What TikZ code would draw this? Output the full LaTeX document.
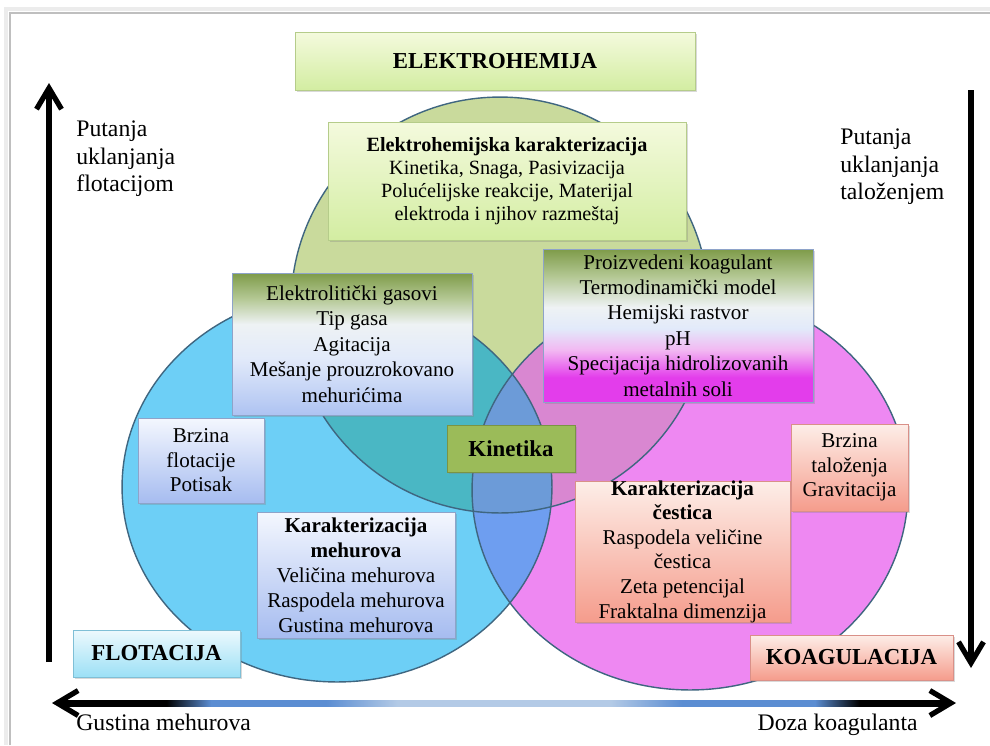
\documentclass[tikz,border=0pt]{standalone}
\usepackage{fontspec}
\setmainfont{Liberation Serif}
\usetikzlibrary{arrows.meta,shadows}

\definecolor{ringGreen}{HTML}{C9DA9C}
\definecolor{ringBlue}{HTML}{6DCFF6}
\definecolor{ringPink}{HTML}{EE88F2}
\definecolor{mixGB}{HTML}{4AB7C4}
\definecolor{mixGP}{HTML}{D987D1}
\definecolor{mixBP}{HTML}{6E9EF0}
\definecolor{mixAll}{HTML}{6C9BD8}
\definecolor{ringLine}{HTML}{3F6680}
\definecolor{panGreenTop}{HTML}{F4FADD}
\definecolor{panGreenBot}{HTML}{D3EDA2}
\definecolor{panGreenLine}{HTML}{B5CC8A}
\definecolor{panOlive}{HTML}{7E9B49}
\definecolor{panOliveLt}{HTML}{B4C894}
\definecolor{panMist}{HTML}{EEF2F4}
\definecolor{panMistBlue}{HTML}{E2EAFA}
\definecolor{panSky}{HTML}{AEC3F2}
\definecolor{panPinkLt}{HTML}{F2B8F2}
\definecolor{panMagenta}{HTML}{E33DEB}
\definecolor{panBlueTop}{HTML}{F4F7FE}
\definecolor{panBlueBot}{HTML}{A6BCF0}
\definecolor{panBlueLine}{HTML}{8EA3C9}
\definecolor{panCyanTop}{HTML}{EDF9FD}
\definecolor{panCyanBot}{HTML}{9CE0F6}
\definecolor{panCyanLine}{HTML}{7FBFD6}
\definecolor{panSalmonTop}{HTML}{FDEEE8}
\definecolor{panSalmonBot}{HTML}{F59C8C}
\definecolor{panSalmonLine}{HTML}{D99088}
\definecolor{panKin}{HTML}{9BBB59}
\definecolor{panKinLine}{HTML}{7A9444}
\definecolor{axisBlue}{HTML}{5B8DD2}
\definecolor{axisLight}{HTML}{B3CAE6}

\pgfdeclarehorizontalshading{axisbar}{100bp}{color(0bp)=(black); color(31bp)=(black);
  color(33.5bp)=(axisBlue); color(40bp)=(axisBlue); color(44bp)=(axisLight);
  color(56bp)=(axisLight); color(60bp)=(axisBlue); color(67.5bp)=(axisBlue);
  color(70bp)=(black); color(100bp)=(black)}
\pgfdeclareverticalshading{gasshade}{100bp}{color(0bp)=(panSky); color(25bp)=(panSky);
  color(45bp)=(panMistBlue); color(57bp)=(panMist); color(66bp)=(panOliveLt);
  color(75bp)=(panOlive); color(100bp)=(panOlive)}
\pgfdeclareverticalshading{koagshade}{100bp}{color(0bp)=(panMagenta); color(25bp)=(panMagenta);
  color(33bp)=(panMagenta); color(42bp)=(panPinkLt); color(49bp)=(panMistBlue);
  color(56bp)=(panMist); color(66bp)=(panOliveLt); color(75bp)=(panOlive); color(100bp)=(panOlive)}

\tikzset{
  panel/.style={rectangle, inner sep=1pt, align=center, line width=0.5pt,
    drop shadow={shadow xshift=1pt, shadow yshift=-1.2pt, opacity=0.3}},
  greenpanel/.style={panel, top color=panGreenTop, bottom color=panGreenBot, draw=panGreenLine},
  olivebluepanel/.style={panel, shading=gasshade, draw=panBlueLine},
  olivepinkpanel/.style={panel, shading=koagshade, draw=panBlueLine},
  bluepanel/.style={panel, top color=panBlueTop, bottom color=panBlueBot, draw=panBlueLine},
  cyanpanel/.style={panel, top color=panCyanTop, bottom color=panCyanBot, draw=panCyanLine},
  salmonpanel/.style={panel, top color=panSalmonTop, bottom color=panSalmonBot, draw=panSalmonLine},
  kinpanel/.style={panel, fill=panKin, draw=panKinLine},
  boxtext/.style={font=\fontsize{12}{14.5}\selectfont},
  headtext/.style={font=\fontsize{13}{15.6}\selectfont\bfseries},
  sidetext/.style={align=left, inner sep=0pt, anchor=north west, font=\fontsize{13.5}{15.9}\selectfont},
  bigarrow/.style={line width=3pt, -{Straight Barb[length=0.42cm,width=0.5cm]}},
}

\begin{document}
\begin{tikzpicture}[x=0.02cm, y=-0.02cm]
  \useasboundingbox (0,0) rectangle (990,745);
  % page frame
  \draw[gray!15, line width=2.5pt] (6,745) -- (6,9) -- (990,9);
  \draw[gray!50, line width=0.6pt] (10,745) -- (10,13) -- (990,13);

  % circles
  \coordinate (gC) at (500,305);
  \coordinate (bC) at (337,487);
  \coordinate (pC) at (690,490);
  \fill[ringGreen] (gC) ellipse [x radius=4.18cm, y radius=4.16cm];
  \fill[ringBlue] (bC) ellipse [x radius=4.3cm, y radius=3.9cm];
  \fill[ringPink] (pC) ellipse [x radius=4.36cm, y radius=4cm];
  \begin{scope}
    \clip (gC) ellipse [x radius=4.18cm, y radius=4.16cm];
    \fill[mixGB] (bC) ellipse [x radius=4.3cm, y radius=3.9cm];
    \fill[mixGP] (pC) ellipse [x radius=4.36cm, y radius=4cm];
  \end{scope}
  \begin{scope}
    \clip (bC) ellipse [x radius=4.3cm, y radius=3.9cm];
    \fill[mixBP] (pC) ellipse [x radius=4.36cm, y radius=4cm];
    \clip (gC) ellipse [x radius=4.18cm, y radius=4.16cm];
    \fill[mixAll] (pC) ellipse [x radius=4.36cm, y radius=4cm];
  \end{scope}
  \draw[ringLine, line width=0.8pt] (gC) ellipse [x radius=4.18cm, y radius=4.16cm];
  \draw[ringLine, line width=0.8pt] (bC) ellipse [x radius=4.3cm, y radius=3.9cm];
  \draw[ringLine, line width=0.8pt] (pC) ellipse [x radius=4.36cm, y radius=4cm];

  % boxes
  \node[greenpanel, headtext, minimum width=8cm, minimum height=1.16cm] (elHead) at (495,61) {ELEKTROHEMIJA};
  \node[greenpanel, font=\fontsize{11.5}{13}\selectfont, minimum width=7.16cm, minimum height=2.36cm] (elKar) at (507,181)
    {\textbf{Elektrohemijska karakterizacija}\\
     Kinetika, Snaga, Pasivizacija\\
     Polućelijske reakcije, Materijal\\
     elektroda i njihov razmeštaj};
  \node[olivebluepanel, boxtext, minimum width=4.8cm, minimum height=2.84cm] (gasovi) at (352,344)
    {Elektrolitički gasovi\\Tip gasa\\Agitacija\\Mešanje prouzrokovano\\mehurićima};
  \node[olivepinkpanel, boxtext, minimum width=5.4cm, minimum height=3.06cm] (koagProd) at (678,325.5)
    {Proizvedeni koagulant\\Termodinamički model\\Hemijski rastvor\\pH\\Specijacija hidrolizovanih\\metalnih soli};
  \node[bluepanel, font=\fontsize{12}{14}\selectfont, minimum width=2.52cm, minimum height=1.7cm] (brzFlot) at (201,460.5)
    {Brzina\\flotacije\\Potisak};
  \node[kinpanel, headtext, minimum width=2.56cm, minimum height=0.94cm] (kin) at (511,448.5) {Kinetika};
  \node[salmonpanel, font=\fontsize{12}{14}\selectfont, inner ysep=-4pt, minimum width=4.3cm, minimum height=2.82cm] (karCes) at (682.5,551.5)
    {\textbf{Karakterizacija}\\\textbf{čestica}\\Raspodela veličine\\čestica\\Zeta petencijal\\Fraktalna dimenzija};
  \node[salmonpanel, font=\fontsize{12}{14}\selectfont, minimum width=2.34cm, minimum height=1.74cm] (brzTal) at (849.5,467.5)
    {Brzina\\taloženja\\Gravitacija};
  \node[bluepanel, font=\fontsize{12}{14.2}\selectfont, minimum width=3.96cm, minimum height=2.52cm] (karMeh) at (356,575)
    {\textbf{Karakterizacija}\\\textbf{mehurova}\\Veličina mehurova\\Raspodela mehurova\\Gustina mehurova};
  \node[cyanpanel, headtext, minimum width=3.34cm, minimum height=0.94cm] (flot) at (156.5,653.5) {FLOTACIJA};
  \node[salmonpanel, headtext, minimum width=4.06cm, minimum height=0.9cm] (koag) at (851.5,657.5) {KOAGULACIJA};

  % side paths
  \coordinate (flBot) at (49,662);
  \coordinate (flTop) at (49,83);
  \coordinate (taTop) at (971,90);
  \coordinate (taBot) at (971,668);
  \draw[bigarrow] (flBot) -- (flTop);
  \draw[bigarrow] (taTop) -- (taBot);
  \node[sidetext] (flLab) at (76,120) {Putanja\\uklanjanja\\flotacijom};
  \node[sidetext] (taLab) at (840,128) {Putanja\\uklanjanja\\taloženjem};

  % bottom axis
  \coordinate (axL) at (52,703);
  \coordinate (axR) at (956,703);
  \draw[line width=3pt, {Straight Barb[length=0.42cm,width=0.5cm]}-{Straight Barb[length=0.42cm,width=0.5cm]}] (axL) -- (axR);
  \shade[shading=axisbar] ([shift={(8,-3)}]axL) rectangle ([shift={(-8,3)}]axR);
  \node[anchor=base west, inner sep=0pt, font=\fontsize{13.5}{16}\selectfont] (axLab) at (76,730) {Gustina mehurova};
  \node[anchor=base east, inner sep=0pt, font=\fontsize{13.5}{16}\selectfont] (axRab) at (918,730) {Doza koagulanta};
\end{tikzpicture}
\end{document}
